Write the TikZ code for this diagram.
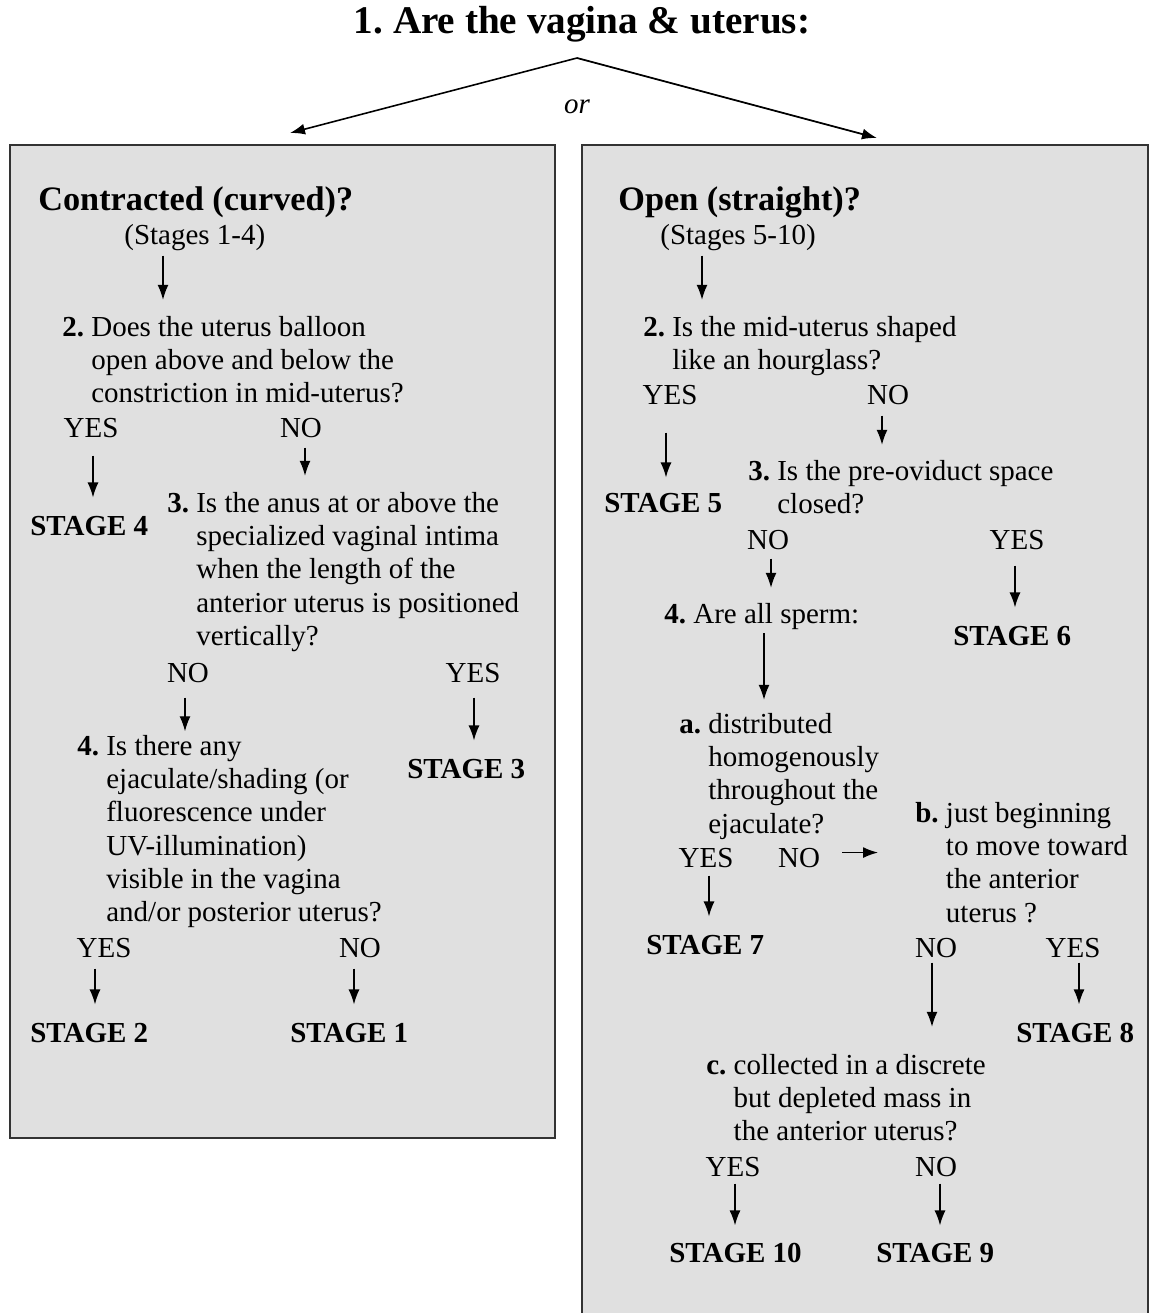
\documentclass[tikz,border=0pt]{standalone}
\usepackage{fontspec}
\setmainfont{Liberation Serif}
\usetikzlibrary{arrows.meta}
\frenchspacing
\definecolor{panel}{HTML}{E0E0E0}
\newcommand\qtext[2]{\textbf{#1}\ \begin{tabular}[t]{@{}l@{}}#2\end{tabular}}
\newcommand\vlink[5]{\draw[arr, shorten <=#4, shorten >=#5] (#1.south -| #3,0) -- (#2.north -| #3,0);}
\tikzset{
	txt/.style={inner sep=0pt, font=\fontsize{16.5}{19}\selectfont},
	lbl/.style={txt, anchor=base},
	ques/.style={txt, anchor=base west},
	stage/.style={txt, anchor=base west, font=\fontsize{16.5}{19}\selectfont\bfseries},
	head/.style={inner sep=0pt, anchor=base west, font=\fontsize{19.5}{23}\selectfont\bfseries},
	arr/.style={line width=0.8pt, -{Latex[length=0.3cm, width=0.22cm]}},
	panelbox/.style={line width=1.2pt, draw=black!80, fill=panel}
}

\begin{document}
\begin{tikzpicture}[x=0.02cm, y=-0.02cm]
		%%%%% START %%%%%
		\useasboundingbox (0, 0) rectangle (1150, 1313);
		
		\node[inner sep=0pt, anchor=base, font=\fontsize{22.3}{26}\selectfont\bfseries] (title) at (582, 33) {1. Are the vagina \& uterus:};
		\node[lbl, font=\fontsize{16.5}{19}\selectfont\itshape] (or) at (577, 113) {or};
		\coordinate (fork) at (577, 58);
		\coordinate (forkL) at (290, 133);
		\coordinate (forkR) at (877, 138);
		\draw[arr, line width=0.9pt] (fork) -- (forkL);
		\draw[arr, line width=1pt] (fork) -- (forkR);
		
		\draw[panelbox] (10, 145) rectangle (555, 1138);
		\fill[panel] (582, 145) rectangle (1148, 1320);
		\draw[line width=1.2pt, draw=black!80] (582, 1320) -- (582, 145) -- (1148, 145) -- (1148, 1320);
		
		% contracted side
		\node[head] (headL) at (38, 210) {Contracted (curved)?};
		\node[ques] (stL) at (124, 244) {(Stages 1-4)};
		\node[ques] (q2L) at (62, 336) {\qtext{2.}{Does the uterus balloon\\open above and below the\\constriction in mid-uterus?}};
		\node[lbl] (l2yes) at (91, 437) {YES};
		\node[lbl] (l2no) at (301, 437) {NO};
		\node[stage] (s4) at (30, 535) {STAGE 4};
		\node[ques] (q3L) at (167, 512) {\qtext{3.}{Is the anus at or above the\\specialized vaginal intima\\when the length of the\\anterior uterus is positioned\\vertically?}};
		\node[lbl] (l3no) at (188, 682) {NO};
		\node[lbl] (l3yes) at (473, 682) {YES};
		\node[ques] (q4L) at (77, 755) {\qtext{4.}{Is there any\\ejaculate/shading (or\\fluorescence under\\UV-illumination)\\visible in the vagina\\and/or posterior uterus?}};
		\node[stage] (s3) at (407, 778) {STAGE 3};
		\node[lbl] (l4yes) at (104, 957) {YES};
		\node[lbl] (l4no) at (360, 957) {NO};
		\node[stage] (s2) at (30, 1042) {STAGE 2};
		\node[stage] (s1) at (290, 1042) {STAGE 1};
		
		\vlink{stL}{q2L}{163}{0.1cm}{0.25cm}
		\vlink{l2yes}{s4}{93}{0.36cm}{0.36cm}
		\vlink{l2no}{q3L}{305}{0.2cm}{0.25cm}
		\vlink{l3no}{q4L}{185}{0.3cm}{0cm}
		\vlink{l3yes}{s3}{474}{0.3cm}{0.36cm}
		\vlink{l4yes}{s2}{95}{0.22cm}{0.36cm}
		\vlink{l4no}{s1}{354}{0.22cm}{0.36cm}
		
		% open side
		\node[head] (headR) at (618, 210) {Open (straight)?};
		\node[ques] (stR) at (660, 244) {(Stages 5-10)};
		\node[ques] (q2R) at (643, 336) {\qtext{2.}{Is the mid-uterus shaped\\like an hourglass?}};
		\node[lbl] (r2yes) at (670, 404) {YES};
		\node[lbl] (r2no) at (888, 404) {NO};
		\node[stage] (s5) at (604, 512) {STAGE 5};
		\node[ques] (q3R) at (748, 480) {\qtext{3.}{Is the pre-oviduct space\\closed?}};
		\node[lbl] (r3no) at (768, 549) {NO};
		\node[lbl] (r3yes) at (1017, 549) {YES};
		\node[ques] (q4R) at (664, 623) {\qtext{4.}{Are all sperm:}};
		\node[stage] (s6) at (953, 645) {STAGE 6};
		\node[ques] (qa) at (679, 733) {\qtext{a.}{distributed\\homogenously\\throughout the\\ejaculate?}};
		\node[lbl] (ayes) at (706, 867) {YES};
		\node[lbl] (ano) at (799, 867) {NO};
		\node[ques] (qb) at (915, 822) {\qtext{b.}{just beginning\\to move toward\\the anterior\\uterus ?}};
		\node[stage] (s7) at (646, 954) {STAGE 7};
		\node[lbl] (bno) at (936, 957) {NO};
		\node[lbl] (byes) at (1073, 957) {YES};
		\node[stage] (s8) at (1016, 1042) {STAGE 8};
		\node[ques] (qc) at (706, 1074) {\qtext{c.}{collected in a discrete\\but depleted mass in\\the anterior uterus?}};
		\node[lbl] (cyes) at (733, 1176) {YES};
		\node[lbl] (cno) at (936, 1176) {NO};
		\node[stage] (s10) at (669, 1262) {STAGE 10};
		\node[stage] (s9) at (876, 1262) {STAGE 9};
		
		\vlink{stR}{q2R}{702}{0.1cm}{0.25cm}
		\vlink{r2yes}{s5}{666}{0.56cm}{0.3cm}
		\vlink{r2no}{q3R}{882}{0.22cm}{0.23cm}
		\vlink{r3no}{q4R}{771}{0.18cm}{0.23cm}
		\vlink{r3yes}{s6}{1015}{0.32cm}{0.36cm}
		\vlink{q4R}{qa}{764}{0cm}{0.19cm}
		\vlink{ayes}{s7}{709}{0.16cm}{0.36cm}
		\draw[arr, shorten <=0.44cm, shorten >=0.74cm] ([yshift=0.1cm]ano.east) -- ([yshift=0.1cm]ano.east -| qb.west);
		\vlink{bno}{qc}{932}{0.1cm}{0.47cm}
		\vlink{byes}{s8}{1079}{0.1cm}{0.36cm}
		\vlink{cyes}{s10}{735}{0.14cm}{0.34cm}
		\vlink{cno}{s9}{940}{0.14cm}{0.34cm}
		
		%%%%% END %%%%%
	\end{tikzpicture}
\end{document}
